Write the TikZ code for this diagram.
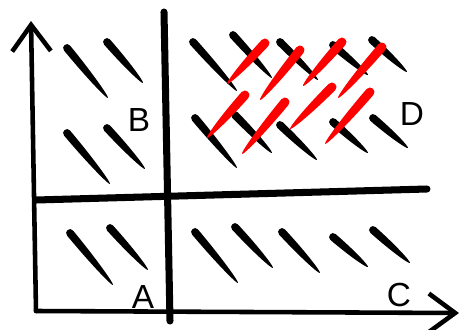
\documentclass[tikz,border=0pt]{standalone}
\usepackage{fontspec}
\setmainfont{Liberation Sans}
\usepackage{tikz}
\usetikzlibrary{arrows.meta, positioning}

% half width of a brush mark
\newcommand{\bw}{3.9}
% tapered brush mark from (#2,#3) to (#4,#5)
\newcommand{\brush}[5][black]{%
  \pgfmathsetmacro{\bdx}{#4-#2}\pgfmathsetmacro{\bdy}{#5-#3}%
  \pgfmathsetmacro{\blen}{veclen(\bdx,\bdy)}%
  \pgfmathsetmacro{\bang}{atan2(-\bdy,\bdx)}%
  \fill[#1, shift={(#2,#3)}, rotate=\bang]
    (0,\bw) .. controls (0.55*\blen,\bw) and (\blen,0.4*\bw) .. (\blen,0)
    .. controls (\blen,-0.4*\bw) and (0.55*\blen,-\bw) .. (0,-\bw)
    .. controls (-1.3*\bw,-\bw) and (-1.3*\bw,\bw) .. (0,\bw);}

\begin{document}
\begin{tikzpicture}[
    x=0.02cm, y=-0.02cm,
    axis/.style={line width=2.6pt, line cap=round,
                 -{Straight Barb[length=15pt, width=22pt, line width=2.6pt]}},
    split/.style={line width=4pt, line cap=round},
    lbl/.style={font=\fontsize{19}{22}\selectfont, inner sep=0pt}
]
\useasboundingbox (0,0) rectangle (461,329);

% axes
\coordinate (origin) at (36,311);
\coordinate (ytop)   at (31,21);
\coordinate (xend)   at (459,313);
\draw[axis] (origin) -- (ytop);
\draw[axis] (origin) -- (xend);

% the two thick split lines
\coordinate (vtop) at (164,12);
\coordinate (vbot) at (170,321);
\coordinate (hlft) at (36,200);
\coordinate (hrgt) at (427,189);
\draw[split] (vtop) -- (vbot);
\draw[split] (hlft) -- (hrgt);

% labels
\node[lbl] (A) at (143,297) {A};
\node[lbl] (B) at (139,120) {B};
\node[lbl] (C) at (399,295) {C};
\node[lbl] (D) at (412,114) {D};

% marks in B
\brush{67}{48}{108}{98}
\brush{107}{42}{143}{83}
\brush{67}{133}{110}{184}
\brush{107}{128}{145}{169}

% marks in A
\brush{70}{233}{113}{285}
\brush{110}{228}{148}{270}

% marks in C
\brush{195}{232}{238}{283}
\brush{235}{227}{273}{268}
\brush{282}{232}{320}{273}
\brush{333}{237}{368}{267}
\brush{373}{230}{410}{263}

% marks in D
\brush{193}{42}{237}{91}
\brush{233}{35}{272}{78}
\brush{280}{42}{318}{80}
\brush{333}{45}{368}{75}
\brush{372}{40}{407}{72}
\brush{195}{118}{237}{168}
\brush{235}{115}{272}{153}
\brush{280}{125}{317}{160}
\brush{333}{122}{368}{153}
\brush{373}{118}{408}{148}

% red marks over D (a bit wider)
\renewcommand{\bw}{4.5}
\brush[red]{265}{43}{227}{84}
\brush[red]{300}{50}{260}{100}
\brush[red]{342}{42}{303}{86}
\brush[red]{382}{47}{338}{98}
\brush[red]{245}{95}{207}{138}
\brush[red]{285}{102}{242}{154}
\brush[red]{332}{87}{290}{129}
\brush[red]{370}{92}{325}{144}

\end{tikzpicture}
\end{document}
